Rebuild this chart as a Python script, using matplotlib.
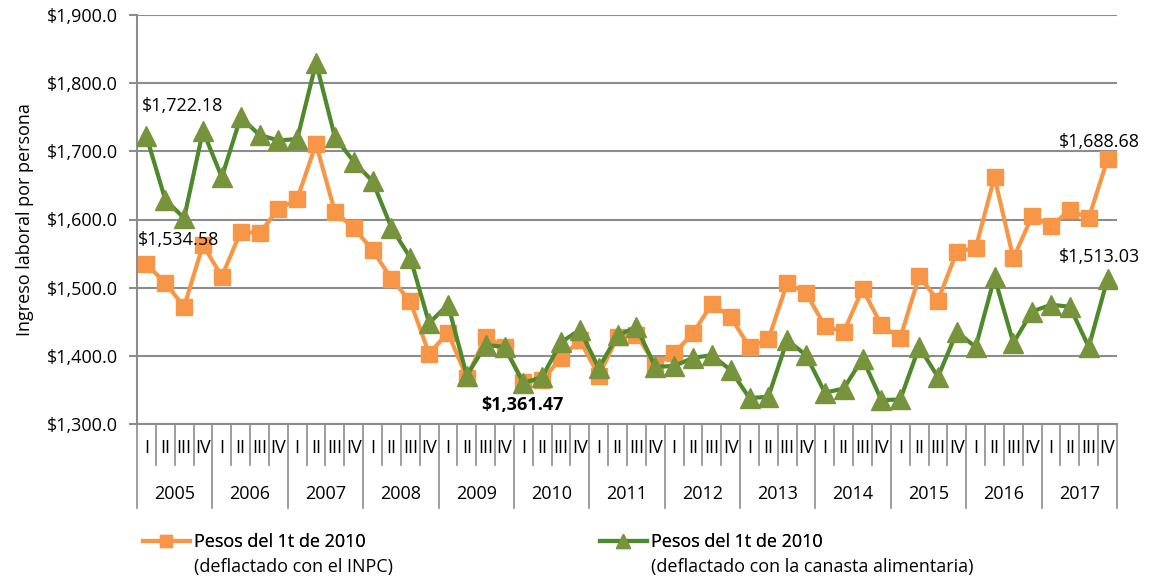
import matplotlib
matplotlib.use("Agg")
import matplotlib.pyplot as plt
import matplotlib.transforms as mtransforms
from matplotlib.ticker import FuncFormatter, MultipleLocator

plt.rcParams['font.family'] = ['Open Sans', 'DejaVu Sans']

years = [str(y) for y in range(2005, 2018)]
quarters = ["I", "II", "III", "IV"]

inpc = [1534.58, 1507, 1472, 1563,
        1516, 1582, 1580, 1615,
        1630, 1711, 1611, 1588,
        1555, 1513, 1480, 1403,
        1434, 1368, 1428, 1413,
        1361.47, 1364, 1397, 1423,
        1371, 1428, 1431, 1387,
        1404, 1433, 1476, 1457,
        1413, 1424, 1507, 1492,
        1444, 1435, 1498, 1445,
        1426, 1517, 1481, 1553,
        1558, 1662, 1543, 1605,
        1590, 1614, 1602, 1688.68]

canasta = [1722.18, 1629, 1602, 1730,
           1662, 1750, 1724, 1716,
           1718, 1830, 1721, 1685,
           1656, 1588, 1544, 1448,
           1475, 1371, 1416, 1413,
           1360, 1369, 1420, 1438,
           1382, 1430, 1442, 1384,
           1385, 1397, 1401, 1379,
           1338, 1340, 1423, 1401,
           1346, 1352, 1396, 1335,
           1336, 1413, 1369, 1435,
           1413, 1515, 1419, 1465,
           1475, 1472, 1413, 1513.03]

labels = ["Pesos del 1t de 2010", "Pesos del 1t de 2010"]
sublabels = ["(deflactado con el INPC)", "(deflactado con la canasta alimentaria)"]

orange = '#F79646'
green_line = '#4E8A2C'
green_marker = '#77933C'
grid_col = '#8C8C8C'
fs = 13

W, H = 1161, 579
fig = plt.figure(figsize=(W / 100, H / 100), dpi=100)
ax = fig.add_axes([137 / W, 1 - 424 / H, 980 / W, 409 / H])

x = list(range(len(inpc)))
l1, = ax.plot(x, inpc, color=orange, lw=3, marker='s', ms=11,
              mfc=orange, mec=orange, zorder=3, label=labels[0])
l2, = ax.plot(x, canasta, color=green_line, lw=3, marker='^', ms=15,
              mfc=green_marker, mec=green_marker, zorder=4, label=labels[1])

ax.set_xlim(-0.5, len(inpc) - 0.5)
ax.set_ylim(1300, 1900)
ax.yaxis.set_major_locator(MultipleLocator(100))
ax.yaxis.set_major_formatter(FuncFormatter(lambda v, p: f"${v:,.1f}"))
ax.tick_params(axis='y', labelsize=fs, length=6, width=1.5, color=grid_col, pad=8)
ax.grid(axis='y', color=grid_col, lw=1.5)
ax.set_axisbelow(True)
ax.set_xticks([])
for s in ['top', 'right']:
    ax.spines[s].set_visible(False)
for s in ['left', 'bottom']:
    ax.spines[s].set_color(grid_col)
    ax.spines[s].set_linewidth(1.5)

ax.set_ylabel("Ingreso laboral por persona", fontsize=fs, labelpad=9)

# two-level category axis
trans = mtransforms.blended_transform_factory(ax.transData, ax.transAxes)
for k in range(len(inpc) + 1):
    low = -0.205 if k % 4 == 0 else -0.1
    ax.plot([k - 0.5, k - 0.5], [0, low], color=grid_col, lw=1.2,
            transform=trans, clip_on=False)
for i in x:
    ax.text(i, -0.059, quarters[i % 4], ha='center', va='center',
            fontsize=fs, transform=trans)
for j, yr in enumerate(years):
    ax.text(4 * j + 1.5, -0.171, yr, ha='center', va='center',
            fontsize=fs, transform=trans)

# data labels
ax.annotate(f"${canasta[0]:,.2f}", (0, canasta[0]), xytext=(-3, 22),
            textcoords='offset points', ha='left', va='center', fontsize=fs)
ax.annotate(f"${inpc[0]:,.2f}", (0, inpc[0]), xytext=(-6, 17),
            textcoords='offset points', ha='left', va='center', fontsize=fs)
ax.annotate(f"${inpc[20]:,.2f}", (20, inpc[20]), xytext=(-1, -16.5),
            textcoords='offset points', ha='center', va='center',
            fontsize=fs, fontweight='bold')
ax.annotate(f"${inpc[-1]:,.2f}", (51, inpc[-1]), xytext=(-6, 12),
            textcoords='offset points', ha='center', va='center', fontsize=fs)
ax.annotate(f"${canasta[-1]:,.2f}", (51, canasta[-1]), xytext=(-6, 16),
            textcoords='offset points', ha='center', va='center', fontsize=fs)

# legend: handle on first line, second line of text below
for h, sub, xl, msc in [(l1, sublabels[0], 143, 0.8), (l2, sublabels[1], 600, 0.65)]:
    leg = fig.legend(handles=[h], loc='center left',
                     bbox_to_anchor=(xl / W, 1 - 542 / H), frameon=False,
                     fontsize=fs, handlelength=2.6, handletextpad=0.25,
                     borderpad=0, borderaxespad=0, markerscale=msc)
    fig.add_artist(leg)
    fig.text((xl + 51) / W, 1 - 567 / H, sub, fontsize=fs,
             ha='left', va='center')

fig.savefig("out.png", dpi=100)
